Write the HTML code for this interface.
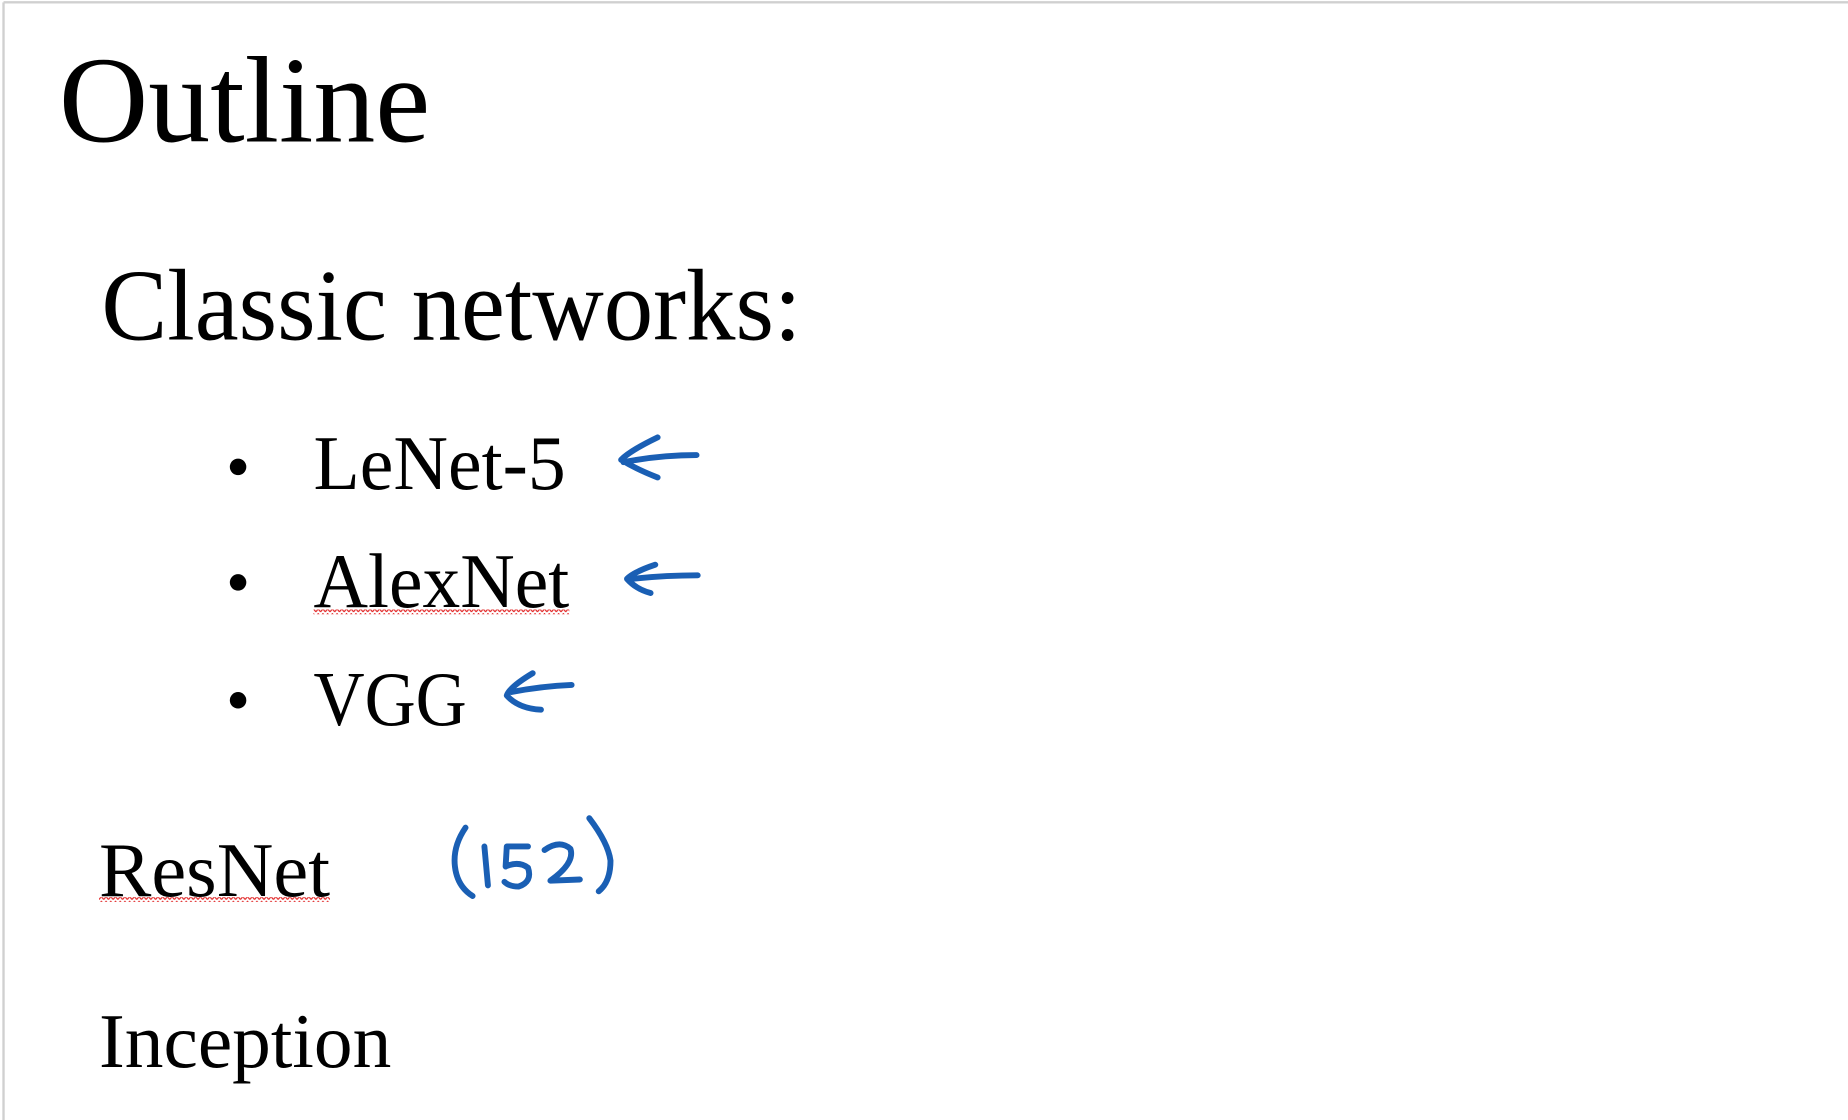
<!DOCTYPE html>
<html><head><meta charset="utf-8"><style>
html,body{margin:0;padding:0;background:#fff;width:1848px;height:1120px;overflow:hidden}
svg{display:block}
text{font-family:"Liberation Serif",serif;fill:#000}
</style></head><body>
<svg width="1848" height="1120" viewBox="0 0 1568 950" preserveAspectRatio="none">
<defs>
<pattern id="sq" width="4" height="4" patternUnits="userSpaceOnUse">
<path d="M0 3 L2 0.5 L4 3" fill="none" stroke="#e02020" stroke-width="1"/>
</pattern>
</defs>
<rect x="0" y="0" width="1568" height="950" fill="#fff"/>
<line x1="3" y1="2" x2="3" y2="950" stroke="#d0d0d0" stroke-width="2"/>
<line x1="3" y1="2" x2="1568" y2="2" stroke="#d0d0d0" stroke-width="2"/>
<text x="50" y="120" font-size="104" textLength="315" lengthAdjust="spacingAndGlyphs">Outline</text>
<text x="86" y="288" font-size="86" textLength="594" lengthAdjust="spacingAndGlyphs">Classic networks:</text>
<circle cx="202" cy="396" r="7" fill="#000"/>
<circle cx="202" cy="494" r="7" fill="#000"/>
<circle cx="202" cy="594" r="7" fill="#000"/>
<text x="266" y="415" font-size="66" textLength="214" lengthAdjust="spacingAndGlyphs">LeNet-5</text>
<text x="266" y="515" font-size="66" textLength="217" lengthAdjust="spacingAndGlyphs">AlexNet</text>
<text x="266" y="615" font-size="66" textLength="130" lengthAdjust="spacingAndGlyphs">VGG</text>
<text x="84" y="760" font-size="66" textLength="196" lengthAdjust="spacingAndGlyphs">ResNet</text>
<text x="84" y="905" font-size="66" textLength="248" lengthAdjust="spacingAndGlyphs">Inception</text>
<rect x="266" y="517" width="217" height="4" fill="url(#sq)"/>
<rect x="84" y="761" width="196" height="4" fill="url(#sq)"/>
<g fill="none" stroke="#1a5fb4" stroke-width="5" stroke-linecap="round" stroke-linejoin="round">
<path d="M558 371 Q535 382 527 390 Q540 398 558 405"/>
<path d="M529 392 Q560 386 591 386"/>
<path d="M556 479 Q538 485 532 491 Q540 500 552 503"/>
<path d="M536 491 Q565 488 592 488"/>
<path d="M452 571 Q432 583 430 590 Q440 601 459 602"/>
<path d="M434 587 Q460 582 485 581"/>
<path d="M395 702 Q384 718 386 735 Q388 752 401 760"/>
<path d="M411 718 L414 751"/>
<path d="M448 718 L430 718 L429 735 Q440 730 448 736 Q452 748 440 752 Q432 752 428 748"/>
<path d="M462 721 Q475 712 484 720 Q488 732 467 747 L492 746"/>
<path d="M500 694 Q516 715 518 730 Q518 748 508 756"/>
</g>
</svg>
</body></html>
